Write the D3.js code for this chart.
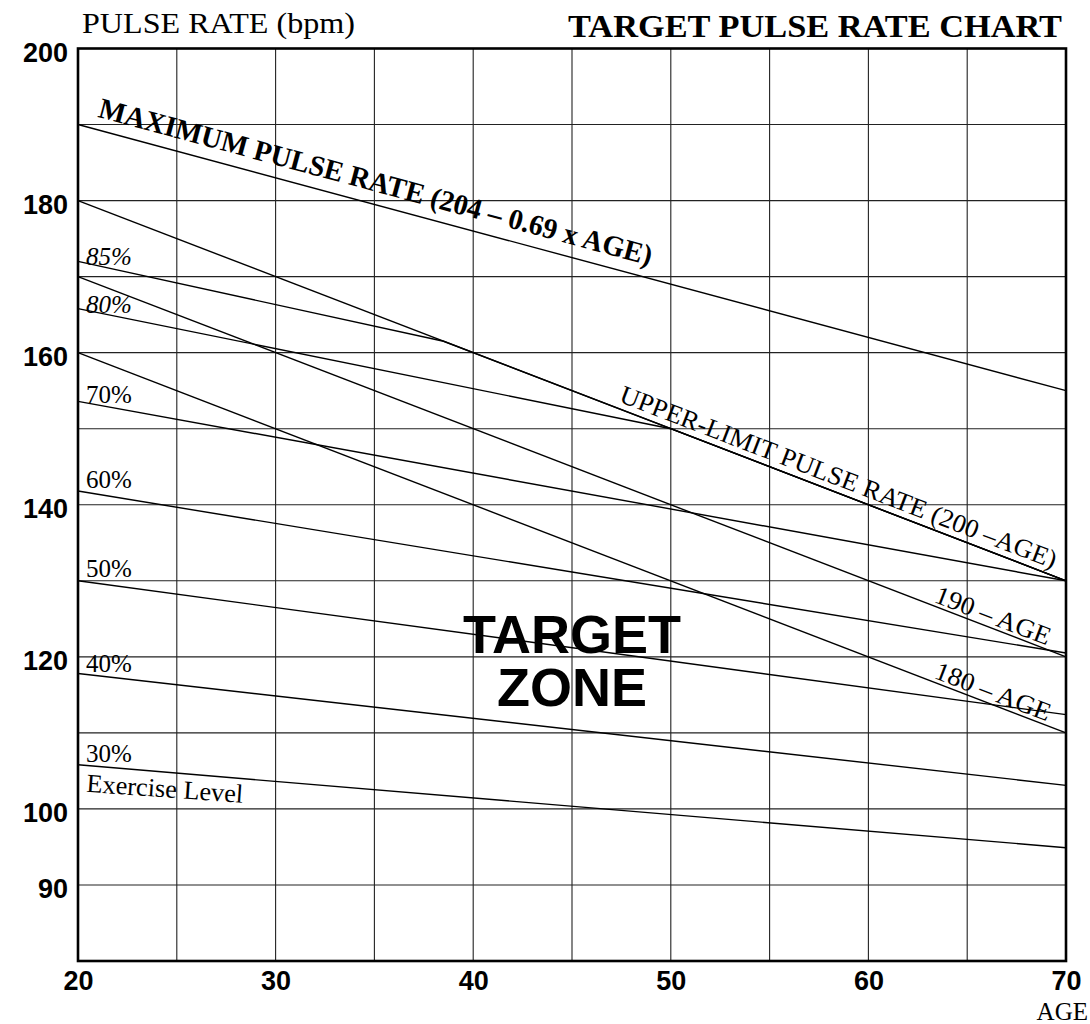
<!DOCTYPE html>
<html>
<head>
<meta charset="utf-8">
<script src="https://cdn.jsdelivr.net/npm/d3@7"></script>
<style>
  body { margin: 0; background: #fff; }
  svg { display: block; }
</style>
</head>
<body>
<div id="chart"></div>
<script>
// data (age, pulse rate bpm)
const xTicks = [20, 30, 40, 50, 60, 70];
const yTicks = [90, 100, 120, 140, 160, 180, 200];
const xGrid = [25, 30, 35, 40, 45, 50, 55, 60, 65];
const yGrid = [90, 100, 110, 120, 130, 140, 150, 160, 170, 180, 190];

const maxPulse = [[20, 190], [70, 155]];
const upperLimit = [[20, 180], [70, 130]];
const minus190 = [[20, 170], [70, 120]];
const minus180 = [[20, 160], [70, 110]];

const pctNames = ["85%", "80%", "70%", "60%", "50%", "40%", "30%"];
const pct85 = [[20, 172], [38.5, 161.5], [70, 130]];
const pct80 = [[20, 165.8], [50, 150], [70, 130]];
const pct70 = [[20, 153.6], [70, 130]];
const pct60 = [[20, 141.8], [70, 120.5]];
const pct50 = [[20, 130], [70, 112.4]];
const pct40 = [[20, 117.8], [70, 103.1]];
const pct30 = [[20, 105.8], [70, 94.9]];
const pctLines = [pct85, pct80, pct70, pct60, pct50, pct40, pct30];

// layout
const W = 1090, H = 1024;
const serif = '"Liberation Serif", "Times New Roman", serif';
const sans = '"Liberation Sans", Arial, sans-serif';

let svg = d3.select('#chart').append('svg')
  .attr('width', W)
  .attr('height', H);

let x = d3.scaleLinear().domain([20, 70]).range([78, 1066]);
let y = d3.scaleLinear().domain([80, 200]).range([961, 48.5]);

let line = d3.line().x(d => x(d[0])).y(d => y(d[1]));

// grid
svg.append('g')
  .selectAll('line')
  .data(xGrid)
  .enter().append('line')
  .attr('x1', d => x(d)).attr('x2', d => x(d))
  .attr('y1', y(200)).attr('y2', y(80))
  .attr('stroke', '#222').attr('stroke-width', 1.1);

svg.append('g')
  .selectAll('line')
  .data(yGrid)
  .enter().append('line')
  .attr('x1', x(20)).attr('x2', x(70))
  .attr('y1', d => y(d)).attr('y2', d => y(d))
  .attr('stroke', '#222').attr('stroke-width', 1.1);

// curves
let series = [maxPulse, upperLimit, minus190, minus180].concat(pctLines);
svg.append('g')
  .selectAll('path')
  .data(series)
  .enter().append('path')
  .attr('d', line)
  .attr('fill', 'none')
  .attr('stroke', '#000')
  .attr('stroke-width', 1.4);

// frame
svg.append('rect')
  .attr('x', x(20)).attr('y', y(200))
  .attr('width', x(70) - x(20)).attr('height', y(80) - y(200))
  .attr('fill', 'none')
  .attr('stroke', '#000')
  .attr('stroke-width', 2.6);

// axes
let yAxis = svg.append('g')
  .attr('transform', 'translate(' + x(20) + ',0)')
  .call(d3.axisLeft(y).tickValues(yTicks).tickSize(0).tickPadding(10));
yAxis.select('.domain').remove();
yAxis.selectAll('text')
  .attr('dy', '0.48em')
  .style('font-family', sans)
  .style('font-size', '27px')
  .style('font-weight', 'bold')
  .attr('fill', '#000');

let xAxis = svg.append('g')
  .attr('transform', 'translate(0,' + y(80) + ')')
  .call(d3.axisBottom(x).tickValues(xTicks).tickSize(0).tickPadding(10));
xAxis.select('.domain').remove();
xAxis.selectAll('text')
  .style('font-family', sans)
  .style('font-size', '27px')
  .style('font-weight', 'bold')
  .attr('fill', '#000');

// titles
svg.append('text')
  .attr('x', 82).attr('y', 33)
  .attr('textLength', 273).attr('lengthAdjust', 'spacingAndGlyphs')
  .style('font-family', serif).style('font-size', '29px')
  .text('PULSE RATE (bpm)');

svg.append('text')
  .attr('x', 568).attr('y', 37)
  .attr('textLength', 494).attr('lengthAdjust', 'spacingAndGlyphs')
  .style('font-family', serif).style('font-size', '32px').style('font-weight', 'bold')
  .text('TARGET PULSE RATE CHART');

svg.append('text')
  .attr('x', 1088).attr('y', 1020)
  .attr('text-anchor', 'end')
  .style('font-family', serif).style('font-size', '25px')
  .text('AGE');

// labels along lines
function angleOf(seg) {
  return Math.atan2(y(seg[1][1]) - y(seg[0][1]), x(seg[1][0]) - x(seg[0][0])) * 180 / Math.PI;
}
function yAt(seg, px) {
  let a = x.invert(px);
  let t = (a - seg[0][0]) / (seg[1][0] - seg[0][0]);
  return y(seg[0][1] + t * (seg[1][1] - seg[0][1]));
}
function lineLabel(seg, px, off, txt, opts) {
  let py = yAt(seg, px) - off;
  let t = svg.append('text')
    .attr('transform', 'translate(' + px + ',' + py + ') rotate(' + angleOf(seg) + ')')
    .style('font-family', serif)
    .style('font-size', opts.size + 'px')
    .style('font-weight', opts.weight || 'normal')
    .text(txt);
  if (opts.len) t.attr('textLength', opts.len).attr('lengthAdjust', 'spacingAndGlyphs');
}

lineLabel(maxPulse, 97, 13, 'MAXIMUM PULSE RATE (204 \u2013 0.69 x  AGE)', {size: 29, weight: 'bold', len: 572});
lineLabel(upperLimit, 618, 7, 'UPPER-LIMIT PULSE RATE (200 \u2013AGE)', {size: 26, len: 466});
lineLabel(minus190, 933, 4, '190 \u2013 AGE', {size: 26, len: 122});
lineLabel(minus180, 933, 4, '180 \u2013 AGE', {size: 26, len: 122});

// percentage labels at the left end
const pctDy = [4, 4, 2, -3, -4, -2, -3];
const pctItalic = [true, true, false, false, false, false, false];
svg.append('g')
  .selectAll('text')
  .data(pctLines)
  .enter().append('text')
  .attr('x', 86)
  .attr('y', (d, i) => y(d[0][1]) + pctDy[i])
  .style('font-family', serif)
  .style('font-size', '25px')
  .style('font-style', (d, i) => pctItalic[i] ? 'italic' : 'normal')
  .text((d, i) => pctNames[i]);

svg.append('text')
  .attr('transform', 'translate(86,' + (y(pct30[0][1]) + 27) + ') rotate(4)')
  .attr('textLength', 157).attr('lengthAdjust', 'spacingAndGlyphs')
  .style('font-family', serif).style('font-size', '26px')
  .text('Exercise Level');

// target zone
svg.append('text')
  .attr('x', 572).attr('y', 653)
  .attr('text-anchor', 'middle')
  .style('font-family', sans).style('font-size', '54px').style('font-weight', 'bold')
  .text('TARGET');
svg.append('text')
  .attr('x', 572).attr('y', 706)
  .attr('text-anchor', 'middle')
  .style('font-family', sans).style('font-size', '54px').style('font-weight', 'bold')
  .text('ZONE');
</script>
</body>
</html>
